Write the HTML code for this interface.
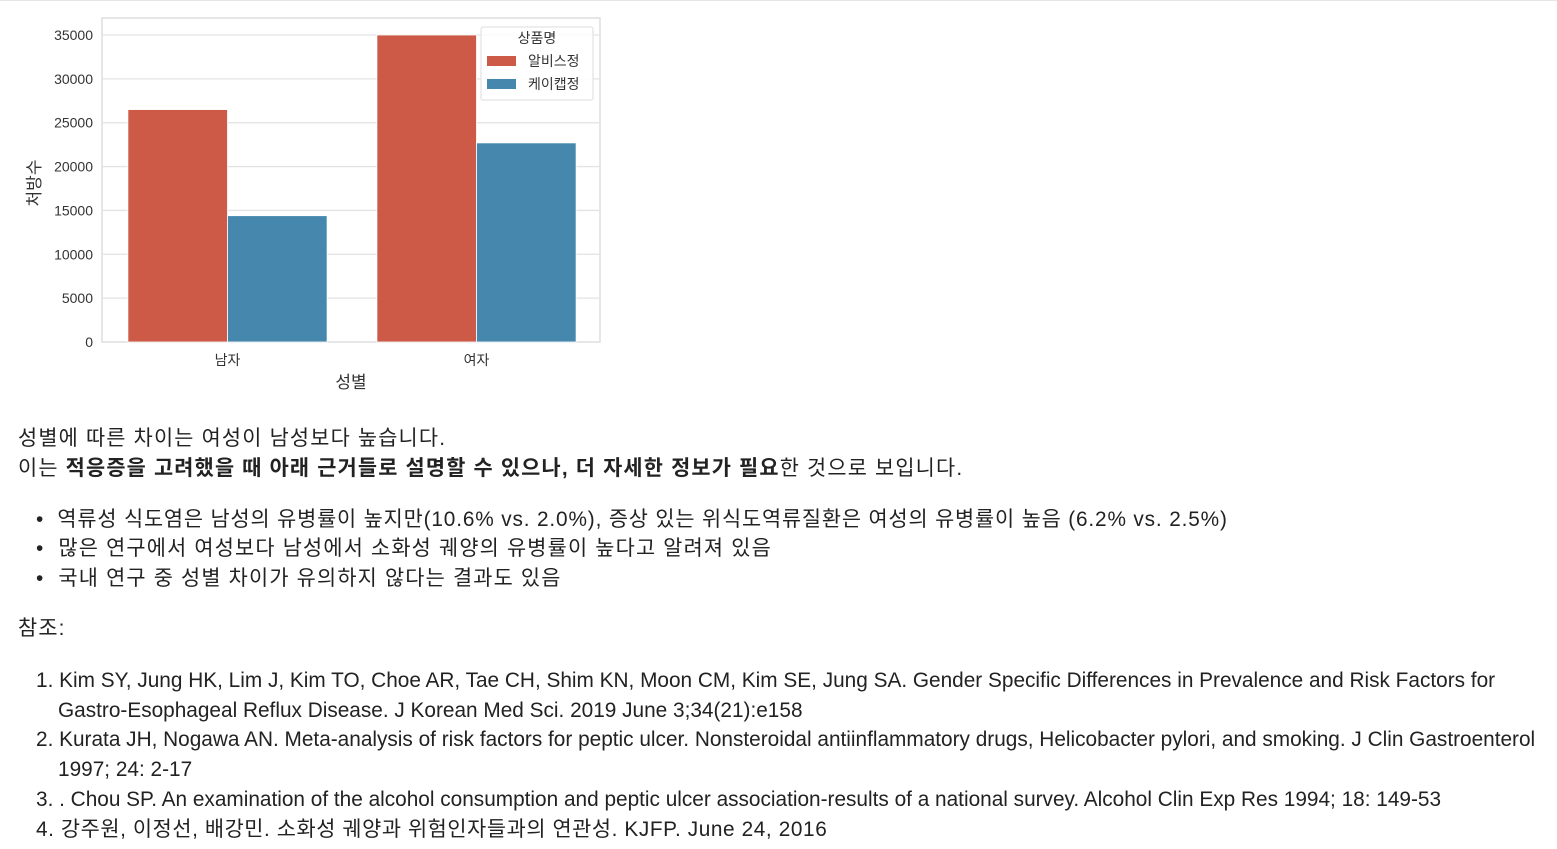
<!DOCTYPE html>
<html><head><meta charset="utf-8">
<style>
body{margin:0;width:1557px;height:849px;background:#fff;overflow:hidden;font-family:"Liberation Sans","Noto Sans CJK KR",sans-serif;color:#222;}
#topline{position:absolute;left:0;top:0;width:1557px;height:1px;background:#e6e6e6}
#chart{position:absolute;left:0;top:0}
.t{position:absolute;left:18px;font-size:20.8px;line-height:30px;white-space:nowrap}
.k{letter-spacing:1.2px}
</style></head><body>
<div id="topline"></div>
<svg id="chart" width="620" height="400"></svg>
<div class="t k" style="top:424px">성별에 따른 차이는 여성이 남성보다 높습니다.</div>
<div class="t k" style="top:454px">이는 <b>적응증을 고려했을 때 아래 근거들로 설명할 수 있으나, 더 자세한 정보가 필요</b>한 것으로 보입니다.</div>
<div class="t" style="top:505px;left:36px">
<div style="letter-spacing:0.85px">•&nbsp;&nbsp;역류성 식도염은 남성의 유병률이 높지만(10.6% vs. 2.0%), 증상 있는 위식도역류질환은 여성의 유병률이 높음 (6.2% vs. 2.5%)</div>
<div class="k" style="margin-top:-1px">•&nbsp;&nbsp;많은 연구에서 여성보다 남성에서 소화성 궤양의 유병률이 높다고 알려져 있음</div>
<div class="k">•&nbsp;&nbsp;국내 연구 중 성별 차이가 유의하지 않다는 결과도 있음</div>
</div>
<div class="t k" style="top:614px">참조:</div>
<div class="t" style="top:666px;left:36px;line-height:29.7px">
<div>1. Kim SY, Jung HK, Lim J, Kim TO, Choe AR, Tae CH, Shim KN, Moon CM, Kim SE, Jung SA. Gender Specific Differences in Prevalence and Risk Factors for</div>
<div style="padding-left:22px">Gastro-Esophageal Reflux Disease. J Korean Med Sci. 2019 June 3;34(21):e158</div>
<div>2. Kurata JH, Nogawa AN. Meta-analysis of risk factors for peptic ulcer. Nonsteroidal antiinflammatory drugs, Helicobacter pylori, and smoking. J Clin Gastroenterol</div>
<div style="padding-left:22px">1997; 24: 2-17</div>
<div>3. . Chou SP. An examination of the alcohol consumption and peptic ulcer association-results of a national survey. Alcohol Clin Exp Res 1994; 18: 149-53</div>
<div style="letter-spacing:0.6px">4. 강주원, 이정선, 배강민. 소화성 궤양과 위험인자들과의 연관성. KJFP. June 24, 2016</div>
</div>
<script>
const categories=["남자","여자"];
const seriesNames=["알비스정","케이캡정"];
const albis=[26500,35000];
const kcap=[14400,22700];
const yTicks=[0,5000,10000,15000,20000,25000,30000,35000];
const colors=["#cd5a47","#4587ad"];
const NS="http://www.w3.org/2000/svg";
const svg=document.getElementById('chart');
const L=102,R=600,T=18,B=342,yMax=35000;
const y=v=>B-(v/yMax)*(B-35);
const band=(R-L)/categories.length;
const xc=i=>L+band*(i+0.5);
function mk(tag,attrs){const e=document.createElementNS(NS,tag);for(const k in attrs)e.setAttribute(k,attrs[k]);svg.appendChild(e);return e;}
let bg=mk('rect',{x:L,y:T,width:R-L,height:B-T,fill:'#fff',stroke:'#ddd','stroke-width':1.5});


yTicks.forEach(v=>{
 const g=mk('line',{x1:L,x2:R,y1:y(v),y2:y(v),stroke:'#e3e3e3','stroke-width':1.3});
 
 
 const t=mk('text',{x:L-9,y:y(v)+5,'text-anchor':'end','font-size':14,fill:'#333','font-family':'Liberation Sans, sans-serif'});
 t.textContent=v;
 
 
});
const bw=band*0.4;
[albis,kcap].forEach((s,si)=>{
 s.forEach((v,i)=>{
  const x0=xc(i)-bw+si*bw+1;
  const r=mk('rect',{x:x0,y:y(v),width:bw,height:B-y(v),fill:colors[si],stroke:'#fff','stroke-width':0.8});
  
  
 });
});
categories.forEach((c,i)=>{
 const t=mk('text',{x:xc(i)+1,y:365,'text-anchor':'middle','font-size':14,fill:'#333','font-family':'Noto Sans CJK KR, sans-serif'});
 t.textContent=c;
 
 
});
let xt=mk('text',{x:351,y:388,'text-anchor':'middle','font-size':17,fill:'#333','font-family':'Noto Sans CJK KR, sans-serif'});
xt.textContent='성별';


let yt=mk('text',{x:0,y:0,'text-anchor':'middle','font-size':17,fill:'#333','font-family':'Noto Sans CJK KR, sans-serif',transform:'translate(40,183) rotate(-90)'});
yt.textContent='처방수';


let lg=mk('rect',{x:481,y:27,width:112,height:73,fill:'#fff','fill-opacity':0.85,stroke:'#ddd',rx:2});


let lt=mk('text',{x:537,y:43,'text-anchor':'middle','font-size':14,fill:'#333','font-family':'Noto Sans CJK KR, sans-serif'});
lt.textContent='상품명';


seriesNames.forEach((n,i)=>{
 const sw=mk('rect',{x:487,y:56+i*23,width:29,height:10,fill:colors[i]});
 
 
 const t=mk('text',{x:528,y:66+i*23,'font-size':14,fill:'#333','font-family':'Noto Sans CJK KR, sans-serif'});
 t.textContent=n;
 
 
});
</script>
</body></html>
